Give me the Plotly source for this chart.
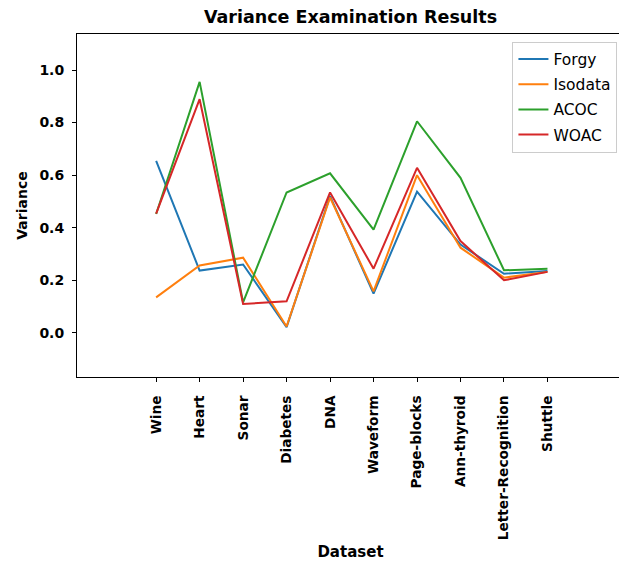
import plotly.graph_objects as go

datasets = ["Wine", "Heart", "Sonar", "Diabetes", "DNA", "Waveform",
            "Page-blocks", "Ann-thyroid", "Letter-Recognition", "Shuttle"]
forgy = [0.654, 0.237, 0.260, 0.022, 0.520, 0.149, 0.537, 0.336, 0.225, 0.235]
isodata = [0.135, 0.256, 0.286, 0.024, 0.515, 0.158, 0.600, 0.324, 0.210, 0.232]
acoc = [0.452, 0.955, 0.116, 0.534, 0.607, 0.393, 0.805, 0.590, 0.238, 0.244]
woac = [0.454, 0.889, 0.110, 0.120, 0.534, 0.244, 0.628, 0.349, 0.200, 0.232]

series = [("Forgy", forgy, "#1f77b4"), ("Isodata", isodata, "#ff7f0e"),
          ("ACOC", acoc, "#2ca02c"), ("WOAC", woac, "#d62728")]

x = list(range(len(datasets)))
fig = go.Figure()
for name, vals, col in series:
    fig.add_trace(go.Scatter(x=x, y=vals, mode="lines", name=name, legendgroup=name,
                             line=dict(color=col, width=2)))

fam = "DejaVu Sans"
W, H = 619, 554  # page body adds an 8px offset
fig.update_layout(
    width=W, height=H,
    margin=dict(l=69, r=3, t=26, b=185, autoexpand=False),
    paper_bgcolor="white", plot_bgcolor="white",
    title=dict(text="<b>Variance Examination Results</b>", x=0.5, xanchor="center",
               xref="paper", y=1 - 9 / H, yanchor="middle",
               font=dict(family=fam, size=17.5, color="black")),
    showlegend=True,
    legend=dict(x=0.988, y=0.978, xanchor="right", yanchor="top",
                bgcolor="rgba(255,255,255,0.8)", bordercolor="#cccccc", borderwidth=1,
                font=dict(family=fam, size=15.5, color="black"),
                tracegroupgap=2, itemwidth=30),
)
fig.update_xaxes(
    range=[-1.82, 10.76], tickmode="array", tickvals=x,
    ticktext=["<b>%s</b>" % d for d in datasets], tickangle=-90,
    tickfont=dict(family=fam, size=13.7, color="black"),
    ticks="outside", ticklen=4, tickcolor="black", automargin=False,
    ticklabelstandoff=8,
    showgrid=False, zeroline=False, showline=True, linecolor="black", linewidth=1,
    mirror=True,
    title=dict(text="<b>Dataset</b>", font=dict(family=fam, size=15, color="black"),
               standoff=7),
)
fig.update_yaxes(
    range=[-0.168, 1.137], tickmode="array",
    tickvals=[0.0, 0.2, 0.4, 0.6, 0.8, 1.0],
    ticktext=["<b>0.0</b>", "<b>0.2</b>", "<b>0.4</b>", "<b>0.6</b>", "<b>0.8</b>", "<b>1.0</b>"],
    tickfont=dict(family=fam, size=14, color="black"),
    ticks="outside", ticklen=4, tickcolor="black", automargin=False,
    ticklabelstandoff=5,
    showgrid=False, zeroline=False, showline=True, linecolor="black", linewidth=1,
    mirror=True,
    title=dict(text="<b>Variance</b>", font=dict(family=fam, size=14, color="black"),
               standoff=8),
)
fig.write_html("out.html")
